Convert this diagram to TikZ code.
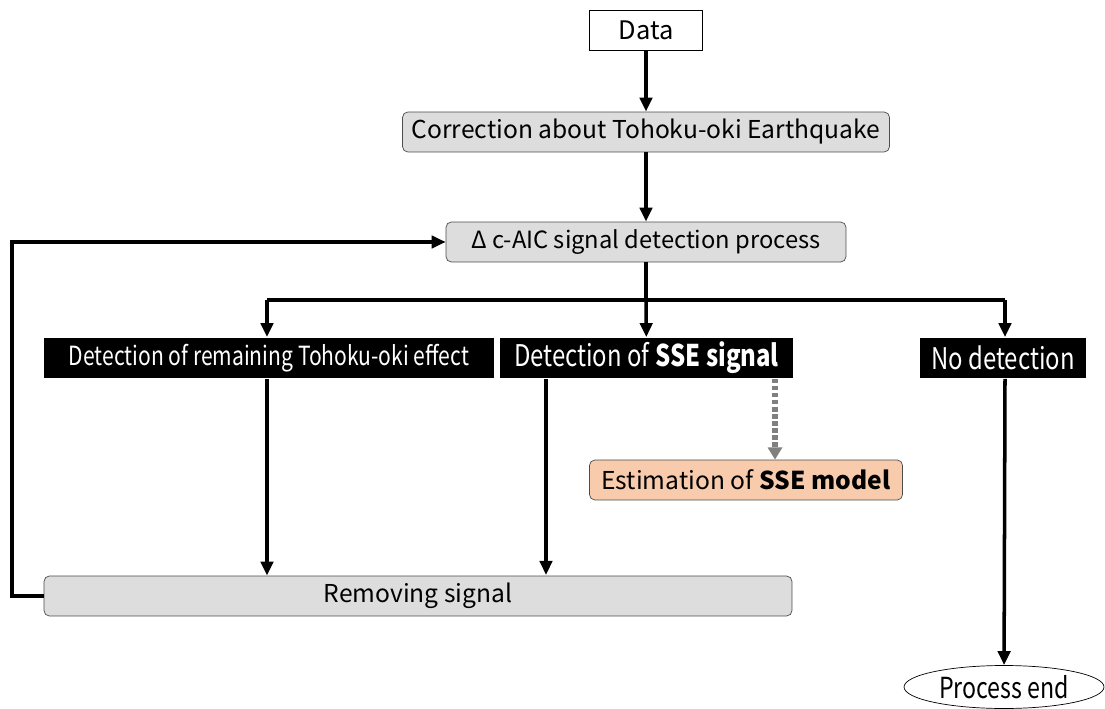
\documentclass[tikz,border=0pt]{standalone}
\usepackage{fontspec}
\setmainfont{Noto Sans CJK JP}
\newfontfamily\narrowfont[FakeStretch=0.8]{Noto Sans CJK JP}
\usetikzlibrary{arrows.meta}
\usetikzlibrary{shapes.geometric}
\definecolor{boxgray}{HTML}{DDDDDD}
\definecolor{peach}{HTML}{F8CBAD}
\tikzset{
  flow/.style={line width=2pt, -{Triangle[length=8pt,width=7pt]}},
  graybox/.style={draw=black!70, fill=boxgray, rounded corners=3pt, minimum height=0.8cm, font=\fontsize{14pt}{16pt}\selectfont},
  blackbox/.style={fill=black, text=white, minimum height=0.82cm, inner sep=0pt, font=\narrowfont\fontsize{17pt}{19pt}\selectfont}
}
\begin{document}
\begin{tikzpicture}[x=0.02cm, y=-0.02cm]
  \useasboundingbox (0,0) rectangle (1105,709);
  \node[draw, minimum width=2.26cm, minimum height=0.8cm, font=\fontsize{14.5pt}{16pt}\selectfont] (data) at (646,30) {Data};
  \node[graybox, minimum width=9.74cm] (corr) at (646,132) {Correction about Tohoku-oki Earthquake};
  \node[graybox, minimum width=8cm, font=\fontsize{13.5pt}{16pt}\selectfont] (aic) at (646,242) {Δ c-AIC signal detection process};

  \node[blackbox, minimum width=9cm, font=\narrowfont\fontsize{15pt}{17pt}\selectfont] (rem) at (269,358) {Detection of remaining Tohoku-oki effect};
  \node[blackbox, minimum width=5.86cm] (sse) at (646.5,358) {Detection of \textbf{SSE signal}};
  \node[blackbox, minimum width=3.34cm] (nodet) at (1003,358) {No detection};

  \node[graybox, fill=peach, minimum width=6.26cm] (est) at (746,480) {Estimation of \textbf{SSE model}};
  \node[graybox, minimum width=14.96cm] (remove) at (418,596) {Removing signal};
  \node[draw, ellipse, minimum width=4.0cm, minimum height=0.86cm, inner sep=0pt, font=\narrowfont\fontsize{16.5pt}{18pt}\selectfont] (end) at (1004,687) {Process end};

  % branch points
  \coordinate (b) at (646,300);
  \coordinate (bl) at (267,300);
  \coordinate (br) at (1005,300);
  \coordinate (lp) at (12,596);

  \draw[flow] (data) -- (corr);
  \draw[flow] (corr) -- (aic);
  \draw[line width=2.2pt] (aic) -- (b);
  \draw[line width=2.2pt] (bl) -- (br);
  \draw[flow] (bl) -- (bl |- rem.north);
  \draw[flow] (b) -- (sse);
  \draw[flow] (br) -- (br |- nodet.north);
  \draw[flow] (bl |- rem.south) -- (bl |- remove.north);
  \draw[flow] (546,379) -- (546,575);
  \draw[flow, line width=3pt, draw=gray, dash pattern=on 2.5pt off 1.5pt, -{Triangle[length=7pt,width=8pt,fill=gray]}] (775,379) -- (est.north -| 775,0);
  \draw[flow] (br |- nodet.south) -- (end);
  \draw[flow] (remove.west) -- (lp) |- (aic.west);
\end{tikzpicture}
\end{document}
